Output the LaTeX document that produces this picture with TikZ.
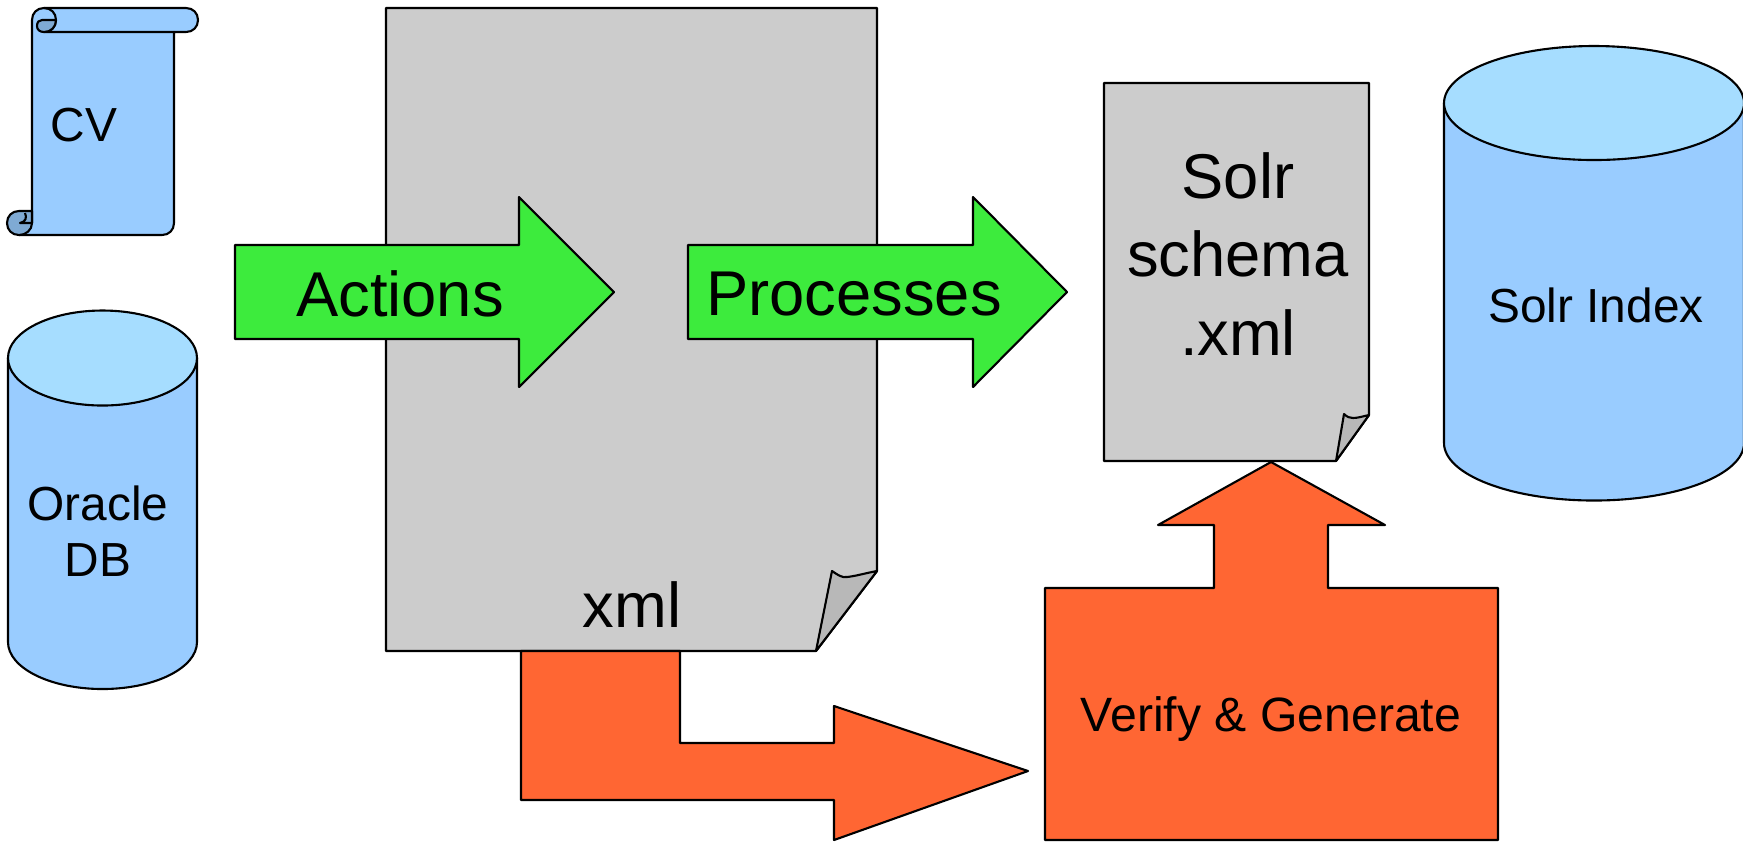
\documentclass[tikz,border=0pt]{standalone}
\usepackage{fontspec}
\setmainfont{Liberation Sans}
\definecolor{bodyblue}{HTML}{99CCFF}
\definecolor{topblue}{HTML}{A6DDFF}
\definecolor{curlblue}{HTML}{7FAAD4}
\definecolor{docgray}{HTML}{CCCCCC}
\definecolor{foldgray}{HTML}{B8B8B8}
\definecolor{arrowgreen}{HTML}{3DEB3D}
\definecolor{arroworange}{HTML}{FF6633}
\begin{document}
\begin{tikzpicture}[x=0.01cm, y=-0.01cm, line join=round,
    outline/.style={draw=black,line width=0.6pt},
    doc/.style={outline,fill=docgray},
    fold/.style={outline,fill=foldgray},
    can/.style={outline,fill=bodyblue},
    lid/.style={outline,fill=topblue},
    curl/.style={outline,fill=curlblue},
    greenarrow/.style={outline,fill=arrowgreen},
    orangearrow/.style={outline,fill=arroworange},
    small/.style={font=\fontsize{13.6}{16}\selectfont,align=center,inner sep=0pt},
    medium/.style={font=\fontsize{13.7}{16.5}\selectfont,align=center,inner sep=0pt},
    big/.style={font=\fontsize{18}{22.2}\selectfont,align=center,inner sep=0pt},]

    \useasboundingbox (0,0) rectangle (1743,841);

    % Scroll
    \draw[can] (32,20) .. controls (32,13) and (37,8) .. (44,8) -- (186,8)
        .. controls (193,8) and (198,13) .. (198,20)
        .. controls (198,27) and (193,32) .. (186,32) -- (174,32) -- (174,223)
        .. controls (174,230) and (169,235) .. (162,235) -- (19,235)
        -- (32,223) -- cycle;
    \draw[outline] (44,8) .. controls (51,8) and (56,13) .. (56,20)
        .. controls (56,27) and (51,32) .. (44,32) -- (174,32);
    \draw[curl] (42,20) -- (56,20) .. controls (56,27) and (51,32) .. (44,32)
        .. controls (40,32) and (37,30) .. (37,26)
        .. controls (37,22) and (39,20) .. (42,20) -- cycle;
    \draw[curl] (32,223) .. controls (32,230) and (26,235) .. (19,235)
        .. controls (12,235) and (7,230) .. (7,223)
        .. controls (7,216) and (12,211) .. (19,211) -- (32,211) -- cycle;
    \draw[outline] (25,213) .. controls (27,217) and (26,222) .. (20,223) -- (32,223);
    \node[small] (cv) at (84,125) {CV};

    % Oracle DB
    \draw[can] (8,358) -- (8,642) arc[start angle=180,end angle=0,x radius=94.5,y radius=47]
        -- (197,358) -- cycle;
    \draw[lid] (102.5,358) ellipse[x radius=94.5,y radius=47.5];
    \node[small] (oracle) at (98,531) {Oracle\\DB};

    % Solr Index
    \draw[can] (1444,103) -- (1444,443) arc[start angle=180,end angle=0,x radius=150,y radius=57.5]
        -- (1744,103) -- cycle;
    \draw[lid] (1594,103) ellipse[x radius=150,y radius=57];
    \node[small] (index) at (1596,305) {Solr Index};

    % Documents
    \draw[doc] (386,8) -- (877,8) -- (877,571) -- (816,651) -- (386,651) -- cycle;
    \draw[fold] (816,651) -- (832,571) .. controls (838,575) and (842,578) .. (847,577)
        .. controls (856,576) and (866,573) .. (877,571) -- cycle;
    \node[big] (xml) at (632,605) {xml};

    \draw[doc] (1104,83) -- (1369,83) -- (1369,415) -- (1336,461) -- (1104,461) -- cycle;
    \draw[fold] (1336,461) -- (1344,414) .. controls (1347,417) and (1350,418) .. (1353,418)
        .. controls (1358,418) and (1364,416) .. (1369,415) -- cycle;
    \node[big] (schema) at (1238,254) {Solr\\schema\\.xml};

    % Green arrows
    \draw[greenarrow] (235,245) -- (519,245) -- (519,197) -- (614,292) -- (519,387)
        -- (519,339) -- (235,339) -- cycle;
    \node[big] (actions) at (400,294) {Actions};

    \draw[greenarrow] (688,245) -- (973,245) -- (973,197) -- (1067,292) -- (973,387)
        -- (973,339) -- (688,339) -- cycle;
    \node[big] (processes) at (854,294) {Processes};

    % Orange arrows
    \draw[orangearrow] (521,651) -- (680,651) -- (680,743) -- (834,743) -- (834,706)
        -- (1028,771) -- (834,840) -- (834,800) -- (521,800) -- cycle;

    \draw[orangearrow] (1271,462) -- (1385,525) -- (1328,525) -- (1328,588) -- (1498,588)
        -- (1498,840) -- (1045,840) -- (1045,588) -- (1214,588) -- (1214,525)
        -- (1158,525) -- cycle;
    \node[medium] (verify) at (1271,719) {Verify \& Generate};

\end{tikzpicture}
\end{document}
